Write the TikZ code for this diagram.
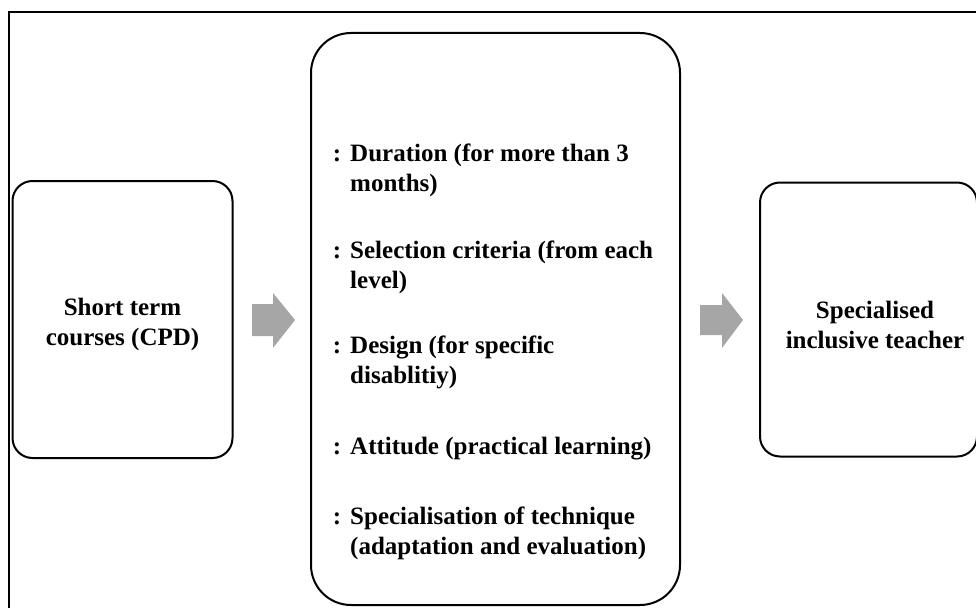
\documentclass[tikz,border=0pt]{standalone}
\usepackage{fontspec}
\setmainfont{Liberation Serif}
\begin{document}
\begin{tikzpicture}[x=1pt,y=-1pt,
  panel/.style={draw=black, line width=2pt, fill=white, rounded corners=#1, inner sep=0pt},
  panel/.default=20pt,
  lbl/.style={font=\fontsize{25}{30}\selectfont\bfseries, align=center, inner sep=0pt},
  item/.style={font=\fontsize{25}{30}\selectfont\bfseries, align=left, anchor=base west, inner sep=0pt},
  bulletsym/.style={font=\fontsize{25}{30}\selectfont\bfseries, anchor=base, inner sep=0pt},
  blockarrow/.style={fill=black!35, draw=none}]
\useasboundingbox (0,0) rectangle (976,607);
\clip (0,0) rectangle (976,607);
% outer frame
\draw[line width=2pt] (9,12.5) rectangle (1000,640);

% boxes
\node[panel, minimum width=220pt, minimum height=277pt] (left) at (122.5,319.5) {};
\node[panel=40pt, minimum width=369pt, minimum height=572pt] (mid) at (495.5,319) {};
\node[panel, minimum width=217pt, minimum height=274pt] (right) at (868.5,319.5) {};

% box texts
\node[lbl] (lefttxt) at ([yshift=-5pt]left.center) {Short term\\courses (CPD)};
\node[lbl] (righttxt) at (875,324.5) {Specialised\\inclusive teacher};

% list items in the middle box (base = baseline of the last line)
\node[bulletsym] (m1) at (337,161) {:};
\node[item] (i1) at (350,191) {Duration (for more than 3\\months)};
\node[bulletsym] (m2) at (337,258) {:};
\node[item] (i2) at (350,288) {Selection criteria (from each\\level)};
\node[bulletsym] (m3) at (337,353) {:};
\node[item] (i3) at (350,383) {Design (for specific\\disablitiy)};
\node[bulletsym] (m4) at (337,454) {:};
\node[item] (i4) at (350,454) {Attitude (practical learning)};
\node[bulletsym] (m5) at (337,524) {:};
\node[item] (i5) at (350,554) {Specialisation of technique\\(adaptation and evaluation)};

% block arrows between the boxes
\fill[blockarrow] (252,304) -- (273,304) -- (273,293) -- (295,320) -- (273,348) -- (273,336) -- (252,336) -- cycle;
\fill[blockarrow] (700,305) -- (722,305) -- (722,293) -- (743,320) -- (722,348) -- (722,335) -- (700,335) -- cycle;
\end{tikzpicture}
\end{document}
